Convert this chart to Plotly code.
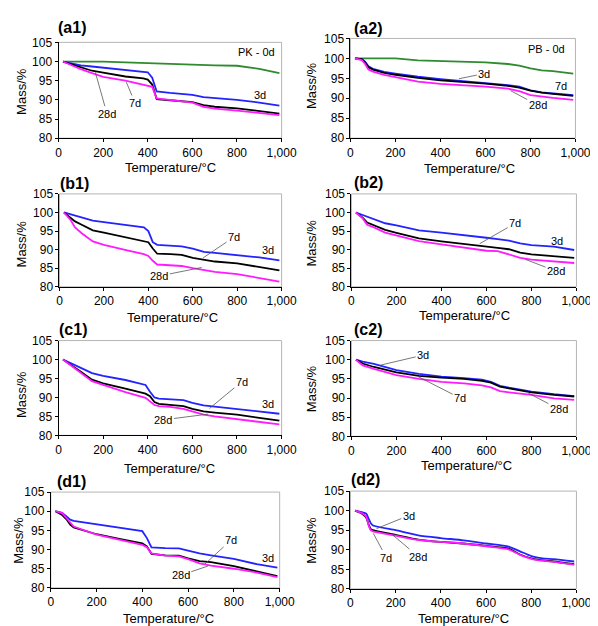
import plotly.graph_objects as go

# ---------------- data (Temperature / °C, Mass / %) ----------------
a1_temp = [20, 60, 100, 150, 200, 300, 380, 400, 420, 440, 500, 600, 650, 700, 800, 900, 990]
a1_0d = [100, 100, 100, 100, 100, 99.8, 99.6, 99.6, 99.5, 99.5, 99.4, 99.2, 99.1, 99.0, 98.9, 98.1, 97.0]
a1_3d = [100, 99.5, 99.0, 98.7, 98.4, 97.9, 97.5, 97.2, 95.8, 92.2, 91.8, 91.3, 90.7, 90.5, 90.0, 89.3, 88.5]
a1_7d = [100, 99.2, 98.5, 97.6, 97.1, 96.1, 95.6, 95.3, 94.0, 90.2, 89.9, 89.4, 88.6, 88.2, 87.8, 87.1, 86.4]
a1_28d = [100, 99.0, 98.0, 97.0, 96.0, 95.0, 94.0, 93.8, 93.4, 90.4, 90.0, 89.3, 88.2, 87.7, 87.2, 86.6, 86.0]

a2_temp = [20, 50, 65, 80, 100, 150, 200, 300, 400, 500, 600, 700, 750, 800, 850, 900, 990]
a2_0d = [100, 100, 100, 100, 100, 100, 100, 99.5, 99.3, 99.2, 99.0, 98.6, 98.2, 97.5, 97.0, 96.8, 96.2]
a2_3d = [100, 99.8, 99.2, 98.0, 97.4, 96.6, 96.2, 95.4, 94.8, 94.3, 93.9, 93.3, 92.9, 92.0, 91.5, 91.2, 90.8]
a2_7d = [100, 99.8, 99.0, 97.8, 97.2, 96.4, 95.9, 95.1, 94.5, 94.1, 93.7, 93.1, 92.7, 91.9, 91.4, 91.1, 90.6]
a2_28d = [100, 99.6, 98.6, 97.2, 96.7, 95.9, 95.3, 94.2, 93.6, 93.3, 92.9, 92.4, 91.8, 90.8, 90.4, 90.1, 89.6]

b1_temp = [20, 50, 70, 100, 150, 200, 300, 380, 400, 420, 440, 500, 550, 600, 650, 700, 800, 900, 990]
b1_3d = [100, 99.5, 99.2, 98.7, 97.8, 97.4, 96.6, 96.0, 95.0, 92.0, 91.3, 91.0, 90.9, 90.3, 89.4, 89.1, 88.6, 87.9, 87.1]
b1_7d = [100, 98.5, 97.6, 96.7, 95.2, 94.6, 93.4, 92.4, 92.0, 90.3, 88.9, 88.8, 88.6, 87.8, 87.2, 86.8, 86.3, 85.3, 84.4]
b1_28d = [100, 98.0, 96.0, 94.4, 92.2, 91.3, 89.9, 88.8, 88.3, 87.0, 86.0, 85.8, 85.6, 85.0, 84.5, 84.0, 83.4, 82.4, 81.4]

b2_temp = [20, 50, 70, 100, 150, 200, 300, 400, 500, 600, 650, 700, 750, 800, 900, 990]
b2_3d = [100, 99.3, 98.8, 98.2, 97.1, 96.5, 95.2, 94.6, 94.0, 93.2, 92.8, 92.4, 91.7, 91.2, 90.8, 89.9]
b2_7d = [100, 98.6, 97.3, 96.6, 95.3, 94.5, 93.0, 92.2, 91.6, 90.8, 90.5, 90.1, 89.2, 88.7, 88.3, 87.8]
b2_28d = [100, 98.4, 96.7, 96.0, 94.6, 93.8, 92.3, 91.4, 90.5, 89.7, 89.6, 88.8, 87.8, 87.3, 86.9, 86.4]

c1_temp = [20, 60, 100, 150, 200, 300, 390, 410, 430, 450, 500, 560, 600, 650, 700, 800, 900, 990]
c1_3d = [100, 98.8, 97.8, 96.4, 95.7, 94.6, 93.3, 91.5, 90.0, 89.7, 89.6, 89.3, 88.6, 87.9, 87.6, 87.0, 86.3, 85.7]
c1_7d = [100, 98.5, 96.8, 94.7, 93.7, 92.3, 91.0, 90.3, 88.8, 88.3, 88.0, 87.7, 87.0, 86.3, 86.0, 85.5, 84.6, 83.9]
c1_28d = [100, 98.3, 96.6, 94.3, 93.3, 91.4, 89.9, 89.0, 88.0, 87.7, 87.5, 87.0, 86.3, 85.5, 85.0, 84.3, 83.5, 82.9]

c2_temp = [20, 50, 100, 200, 300, 400, 500, 580, 620, 660, 700, 800, 900, 990]
c2_3d = [100, 99.5, 98.9, 97.3, 96.3, 95.6, 95.2, 94.8, 94.2, 93.2, 92.7, 91.7, 91.0, 90.5]
c2_7d = [100, 99.0, 98.1, 96.7, 95.8, 95.3, 95.0, 94.5, 94.0, 93.0, 92.5, 91.5, 90.8, 90.4]
c2_28d = [100, 98.5, 97.6, 96.0, 95.0, 94.2, 93.8, 93.3, 92.8, 91.8, 91.5, 90.8, 89.9, 89.5]

d1_temp = [20, 50, 70, 85, 100, 200, 300, 400, 420, 440, 500, 560, 600, 650, 700, 800, 900, 990]
d1_3d = [100, 99.6, 98.6, 97.8, 97.5, 96.6, 95.7, 94.8, 93.0, 90.6, 90.4, 90.3, 89.7, 89.0, 88.5, 87.6, 86.2, 85.3]
d1_7d = [100, 99.0, 97.8, 96.5, 95.8, 94.0, 92.8, 91.6, 90.8, 88.9, 88.5, 88.4, 87.7, 87.0, 86.7, 85.7, 84.3, 83.1]
d1_28d = [100, 99.5, 98.1, 97.0, 96.0, 93.9, 92.6, 91.2, 90.6, 89.0, 88.4, 88.2, 87.5, 86.4, 85.8, 85.0, 84.0, 82.8]

d2_temp = [20, 50, 70, 80, 90, 100, 200, 300, 400, 500, 600, 700, 750, 800, 850, 900, 990]
d2_3d = [100, 99.6, 99.2, 98.0, 96.8, 96.2, 95.0, 93.7, 93.0, 92.4, 91.6, 90.8, 89.6, 88.4, 87.8, 87.6, 87.0]
d2_7d = [100, 99.3, 98.2, 96.5, 95.3, 95.0, 93.8, 92.6, 92.0, 91.6, 91.0, 90.3, 88.8, 87.8, 87.3, 87.0, 86.3]
d2_28d = [100, 99.4, 98.4, 96.3, 95.0, 94.7, 93.6, 92.5, 92.0, 91.6, 90.9, 90.1, 88.7, 87.7, 87.2, 86.9, 86.2]

panel_names = ["(a1)", "(a2)", "(b1)", "(b2)", "(c1)", "(c2)", "(d1)", "(d2)"]
x_ticks = [0, 200, 400, 600, 800, 1000]
y_ticks = [80, 85, 90, 95, 100, 105]
x_title = "Temperature/°C"
y_title = "Mass/%"

# ---------------- styling / layout ----------------
W, H = 598, 626
FONT = "Liberation Sans, Arial, Helvetica, sans-serif"
COL = {"0d": "#2e8b2e", "3d": "#2323ff", "7d": "#000000", "28d": "#ff1aff"}

# plot area boxes in pixels: (left, right, top, bottom)
boxes = [(49, 279, 28, 126), (350, 582, 24, 126),
         (50, 279, 183, 278), (351, 583, 183, 278),
         (49, 279, 333, 430), (351, 583, 333, 431),
         (41, 277, 488, 586), (350, 583, 487, 587)]
title_pos = [(63, 13), (368, 14), (65, 172), (369, 171), (64, 322), (368, 322), (62, 477), (366, 475)]
xtitle_pos = [(164, 156), (473, 157), (167, 309), (468, 307), (163, 464), (470, 461), (162, 617), (467, 617)]
ytitle_pos = [(11, 78), (310, 72), (11, 234), (310, 233), (11, 388), (310, 382), (8, 537), (310, 537)]

panels = [
    (a1_temp, [("0d", a1_0d), ("3d", a1_3d), ("7d", a1_7d), ("28d", a1_28d)]),
    (a2_temp, [("0d", a2_0d), ("3d", a2_3d), ("7d", a2_7d), ("28d", a2_28d)]),
    (b1_temp, [("3d", b1_3d), ("7d", b1_7d), ("28d", b1_28d)]),
    (b2_temp, [("3d", b2_3d), ("7d", b2_7d), ("28d", b2_28d)]),
    (c1_temp, [("3d", c1_3d), ("7d", c1_7d), ("28d", c1_28d)]),
    (c2_temp, [("3d", c2_3d), ("7d", c2_7d), ("28d", c2_28d)]),
    (d1_temp, [("3d", d1_3d), ("7d", d1_7d), ("28d", d1_28d)]),
    (d2_temp, [("3d", d2_3d), ("7d", d2_7d), ("28d", d2_28d)]),
]

# curve labels: (text, text_x, text_y, tip_x, tip_y) in data coords; tip None -> no leader
labels = [
    [("PK - 0d", 887, 102.4, None, None), ("3d", 904, 91.2, None, None),
     ("7d", 343, 89.2, 304, 94.6), ("28d", 217, 86.4, 165, 97.2)],
    [("PB - 0d", 871, 102.3, None, None), ("3d", 595, 96.2, 482, 94.9),
     ("7d", 935, 93.0, None, None), ("28d", 832, 88.3, 712, 91.9)],
    [("7d", 786, 93.4, 647, 87.8), ("3d", 939, 90.0, None, None), ("28d", 450, 82.9, 640, 85.2)],
    [("7d", 728, 97.1, 570, 91.6), ("3d", 914, 92.4, None, None), ("28d", 909, 84.2, 772, 87.4)],
    [("7d", 822, 94.2, 677, 87.1), ("3d", 939, 88.2, None, None), ("28d", 470, 84.1, 670, 85.6)],
    [("3d", 319, 101.2, 130, 98.6), ("7d", 483, 90.0, 296, 95.6), ("28d", 922, 87.1, 786, 91.3)],
    [("7d", 788, 92.5, 673, 86.2), ("3d", 949, 87.9, None, None), ("28d", 568, 83.3, 687, 85.7)],
    [("3d", 258, 98.75, 115, 95.4), ("7d", 159, 88.0, 101, 94.2), ("28d", 300, 88.25, 188, 93.75)],
]

fig = go.Figure()
annotations = []
shapes = []
layout = dict(width=W, height=H, margin=dict(l=0, r=0, t=0, b=0),
              paper_bgcolor="white", plot_bgcolor="white", showlegend=False,
              font=dict(family=FONT, color="black"))

for i, (temp, series) in enumerate(panels):
    n = i + 1
    xa = "x" if n == 1 else f"x{n}"
    ya = "y" if n == 1 else f"y{n}"
    L, R, T, B = boxes[i]
    layout["xaxis" if n == 1 else f"xaxis{n}"] = dict(
        domain=[L / W, R / W], anchor=ya, range=[0, 1000], tickvals=x_ticks,
        tickformat=",d", showgrid=False, zeroline=False, showline=True,
        linecolor="black", linewidth=1, ticks="outside", ticklen=3, tickcolor="black",
        tickfont=dict(family=FONT, size=12, color="black"), fixedrange=True)
    layout["yaxis" if n == 1 else f"yaxis{n}"] = dict(
        domain=[1 - B / H, 1 - T / H], anchor=xa, range=[80, 105], tickvals=y_ticks,
        showgrid=False, zeroline=False, showline=True,
        linecolor="black", linewidth=1, ticks="outside", ticklen=3, tickcolor="black",
        tickfont=dict(family=FONT, size=12, color="black"), fixedrange=True)
    shapes.append(dict(type="rect", xref=f"{xa} domain", yref=f"{ya} domain",
                       x0=0, x1=1, y0=0, y1=1, line=dict(color="#b5b5b5", width=1),
                       layer="below"))
    smooth = (i == 7)
    for key, vals in series:
        fig.add_trace(go.Scatter(
            x=temp, y=vals, mode="lines", xaxis=xa, yaxis=ya, name=key,
            line=dict(color=COL[key], width=1.8,
                      shape="spline" if smooth else "linear", smoothing=0.6),
            hoverinfo="skip"))
    # panel title
    tx, ty = title_pos[i]
    annotations.append(dict(text=f"<b>{panel_names[i]}</b>", xref="paper", yref="paper",
                            x=tx / W, y=1 - ty / H, showarrow=False,
                            font=dict(family=FONT, size=16, color="black"),
                            xanchor="center", yanchor="middle"))
    px, py = xtitle_pos[i]
    annotations.append(dict(text=x_title, xref="paper", yref="paper",
                            x=px / W, y=1 - py / H, showarrow=False,
                            font=dict(family=FONT, size=13, color="black"),
                            xanchor="center", yanchor="middle"))
    qx, qy = ytitle_pos[i]
    annotations.append(dict(text=y_title, xref="paper", yref="paper",
                            x=qx / W, y=1 - qy / H, showarrow=False, textangle=-90,
                            font=dict(family=FONT, size=13, color="black"),
                            xanchor="center", yanchor="middle"))
    for (txt, lx, ly, tipx, tipy) in labels[i]:
        if tipx is None:
            annotations.append(dict(text=txt, xref=xa, yref=ya, x=lx, y=ly, showarrow=False,
                                    font=dict(family=FONT, size=11, color="black")))
        else:
            annotations.append(dict(text=txt, xref=xa, yref=ya, x=tipx, y=tipy,
                                    axref=xa, ayref=ya, ax=lx, ay=ly, showarrow=True,
                                    arrowhead=0, arrowwidth=0.8, arrowcolor="#555555",
                                    standoff=0, startstandoff=0,
                                    font=dict(family=FONT, size=11, color="black")))

layout["annotations"] = annotations
layout["shapes"] = shapes
fig.update_layout(**layout)
fig.write_html("out.html")
